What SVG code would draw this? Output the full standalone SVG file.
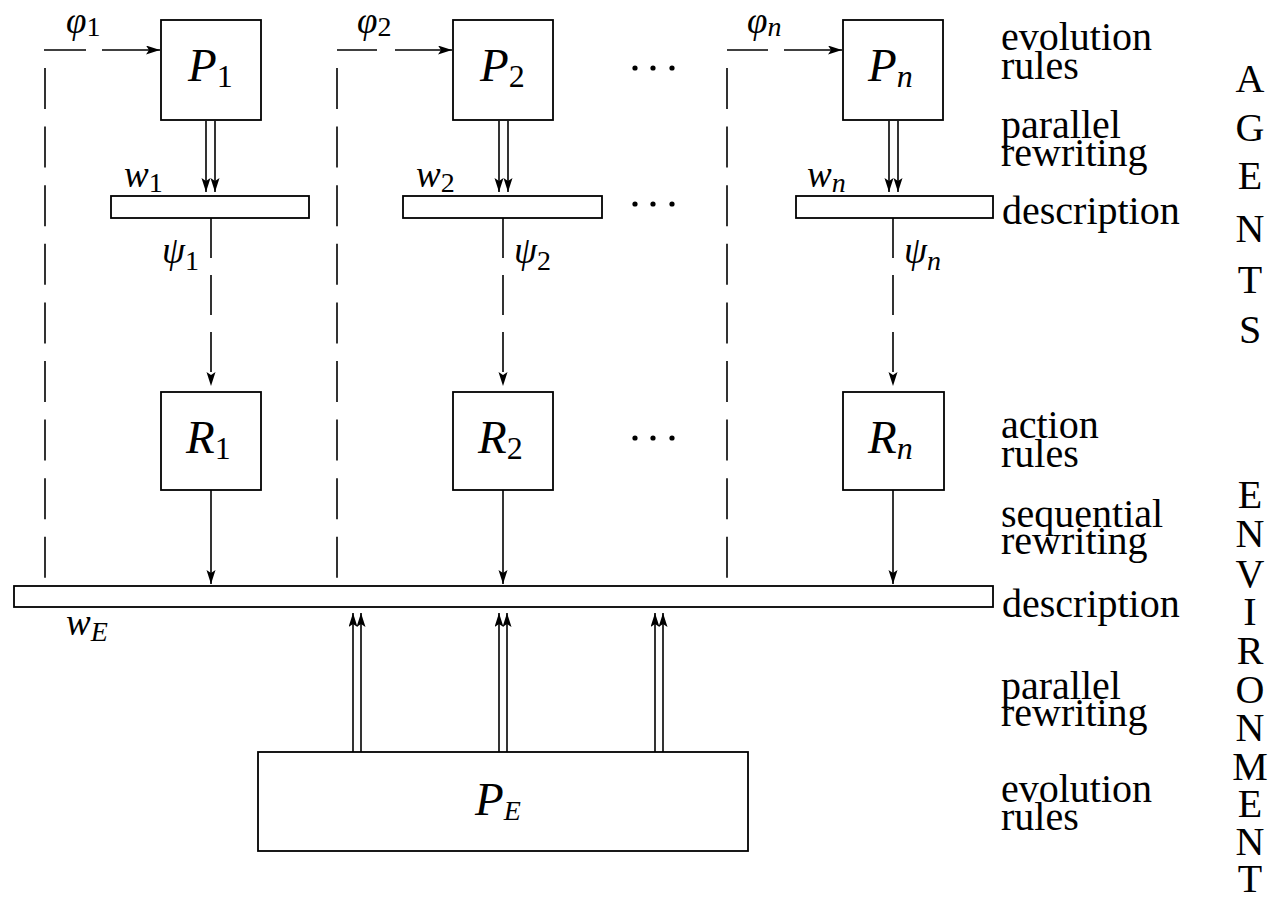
<svg xmlns="http://www.w3.org/2000/svg" width="1275" height="902" viewBox="0 0 1275 902">
<style>
.box{fill:#fff;stroke:#000;stroke-width:1.8}
.ln{stroke:#000;stroke-width:1.6;fill:none}
.dv{stroke-dasharray:41 17.6}
.dp{stroke-dasharray:40 17}
.m{font-family:"Liberation Serif","DejaVu Serif",serif;font-style:italic;fill:#000}
.big{font-size:47px}
.lab{font-size:37px}
.sb{font-size:32px}
.ss{font-size:28px}
.up{font-style:normal}
.t{font-family:"Liberation Serif","Times New Roman",serif;font-size:40px;fill:#000}
.dot{fill:#000}
</style>
<defs>
<marker id="ah" markerUnits="userSpaceOnUse" markerWidth="15" markerHeight="10" refX="14" refY="4.5" orient="auto">
<path d="M0,0 L14,4.5 L0,9 L3,4.5 Z" fill="#000"/>
</marker>
</defs>
<rect width="1275" height="902" fill="#fff"/>

<g id="connectors">
<line class="ln" x1="44" y1="50" x2="86" y2="50"/>
<line class="ln" x1="102" y1="50" x2="160" y2="50" marker-end="url(#ah)"/>
<line class="ln" x1="337" y1="50" x2="377" y2="50"/>
<line class="ln" x1="395" y1="50" x2="452" y2="50" marker-end="url(#ah)"/>
<line class="ln" x1="727" y1="50" x2="768" y2="50"/>
<line class="ln" x1="784" y1="50" x2="842" y2="50" marker-end="url(#ah)"/>
<line class="ln dv" x1="45" y1="68" x2="45" y2="580"/>
<line class="ln dv" x1="337" y1="68" x2="337" y2="580"/>
<line class="ln dv" x1="727" y1="68" x2="727" y2="580"/>
<line class="ln" x1="206" y1="121" x2="206" y2="192" marker-end="url(#ah)"/>
<line class="ln" x1="215" y1="121" x2="215" y2="192" marker-end="url(#ah)"/>
<line class="ln" x1="499" y1="121" x2="499" y2="192" marker-end="url(#ah)"/>
<line class="ln" x1="508" y1="121" x2="508" y2="192" marker-end="url(#ah)"/>
<line class="ln" x1="889" y1="121" x2="889" y2="192" marker-end="url(#ah)"/>
<line class="ln" x1="898" y1="121" x2="898" y2="192" marker-end="url(#ah)"/>
<line class="ln dp" x1="211" y1="218" x2="211" y2="386" marker-end="url(#ah)"/>
<line class="ln dp" x1="503" y1="218" x2="503" y2="386" marker-end="url(#ah)"/>
<line class="ln dp" x1="893" y1="218" x2="893" y2="386" marker-end="url(#ah)"/>
<line class="ln" x1="211" y1="490" x2="211" y2="584" marker-end="url(#ah)"/>
<line class="ln" x1="503" y1="490" x2="503" y2="584" marker-end="url(#ah)"/>
<line class="ln" x1="893" y1="490" x2="893" y2="584" marker-end="url(#ah)"/>
<line class="ln" x1="353" y1="752" x2="353" y2="613" marker-end="url(#ah)"/>
<line class="ln" x1="361" y1="752" x2="361" y2="613" marker-end="url(#ah)"/>
<line class="ln" x1="499" y1="752" x2="499" y2="613" marker-end="url(#ah)"/>
<line class="ln" x1="507" y1="752" x2="507" y2="613" marker-end="url(#ah)"/>
<line class="ln" x1="655" y1="752" x2="655" y2="613" marker-end="url(#ah)"/>
<line class="ln" x1="663" y1="752" x2="663" y2="613" marker-end="url(#ah)"/>
</g>

<g id="labels-edges">
<text class="m lab" x="66" y="33">φ<tspan class="ss up" dy="3">1</tspan></text>
<text class="m lab" x="357" y="33">φ<tspan class="ss up" dy="3">2</tspan></text>
<text class="m lab" x="747" y="33">φ<tspan class="ss" dy="3">n</tspan></text>
<text class="m lab" x="162" y="263">ψ<tspan class="ss up" dy="7">1</tspan></text>
<text class="m lab" x="514" y="263">ψ<tspan class="ss up" dy="7">2</tspan></text>
<text class="m lab" x="904" y="263">ψ<tspan class="ss" dy="7">n</tspan></text>
</g>

<g id="P1"><rect class="box" x="161" y="20" width="100" height="100"/>
<text class="m big" x="188" y="81">P<tspan class="sb up" dy="6">1</tspan></text></g>
<g id="P2"><rect class="box" x="453" y="20" width="100" height="100"/>
<text class="m big" x="480" y="81">P<tspan class="sb up" dy="6">2</tspan></text></g>
<g id="Pn"><rect class="box" x="843" y="20" width="100" height="100"/>
<text class="m big" x="868" y="81">P<tspan class="sb" dy="6">n</tspan></text></g>

<g id="w1"><rect class="box" x="111" y="196" width="198" height="22"/>
<text class="m lab" x="124" y="187">w<tspan class="ss up" dy="5">1</tspan></text></g>
<g id="w2"><rect class="box" x="403" y="196" width="199" height="22"/>
<text class="m lab" x="416" y="187">w<tspan class="ss up" dy="5">2</tspan></text></g>
<g id="wn"><rect class="box" x="796" y="196" width="197" height="22"/>
<text class="m lab" x="807" y="187">w<tspan class="ss" dy="5">n</tspan></text></g>

<g id="R1"><rect class="box" x="161" y="392" width="100" height="98"/>
<text class="m big" x="186" y="453">R<tspan class="sb up" dy="6">1</tspan></text></g>
<g id="R2"><rect class="box" x="453" y="392" width="100" height="98"/>
<text class="m big" x="478" y="453">R<tspan class="sb up" dy="6">2</tspan></text></g>
<g id="Rn"><rect class="box" x="843" y="392" width="101" height="98"/>
<text class="m big" x="868" y="453">R<tspan class="sb" dy="6">n</tspan></text></g>

<g id="wE"><rect class="box" x="14" y="586" width="979" height="21"/>
<text class="m lab" x="66" y="635">w<tspan class="ss" dy="6">E</tspan></text></g>

<g id="PE"><rect class="box" x="258" y="752" width="490" height="99"/>
<text class="m big" x="475" y="815">P<tspan class="ss" dy="5">E</tspan></text></g>

<g id="dots">
<circle class="dot" cx="635" cy="68" r="2.6"/><circle class="dot" cx="653" cy="68" r="2.6"/><circle class="dot" cx="672" cy="68" r="2.6"/>
<circle class="dot" cx="635" cy="204" r="2.6"/><circle class="dot" cx="653" cy="204" r="2.6"/><circle class="dot" cx="672" cy="204" r="2.6"/>
<circle class="dot" cx="635" cy="438" r="2.6"/><circle class="dot" cx="653" cy="438" r="2.6"/><circle class="dot" cx="672" cy="438" r="2.6"/>
</g>

<g id="side-labels">
<text class="t" x="1001" y="50">evolution</text>
<text class="t" x="1001" y="79">rules</text>
<text class="t" x="1001" y="138">parallel</text>
<text class="t" x="1001" y="166">rewriting</text>
<text class="t" x="1002" y="224">description</text>
<text class="t" x="1001" y="438">action</text>
<text class="t" x="1001" y="467">rules</text>
<text class="t" x="1001" y="527">sequential</text>
<text class="t" x="1001" y="554">rewriting</text>
<text class="t" x="1002" y="617">description</text>
<text class="t" x="1001" y="699">parallel</text>
<text class="t" x="1001" y="726">rewriting</text>
<text class="t" x="1001" y="802">evolution</text>
<text class="t" x="1001" y="830">rules</text>
</g>

<g id="vertical-titles" text-anchor="middle">
<text class="t" x="1250" y="92">A</text>
<text class="t" x="1250" y="141">G</text>
<text class="t" x="1250" y="189">E</text>
<text class="t" x="1250" y="242">N</text>
<text class="t" x="1250" y="293">T</text>
<text class="t" x="1250" y="343">S</text>
<text class="t" x="1250" y="508">E</text>
<text class="t" x="1250" y="547">N</text>
<text class="t" x="1250" y="587">V</text>
<text class="t" x="1250" y="625">I</text>
<text class="t" x="1250" y="664">R</text>
<text class="t" x="1250" y="703">O</text>
<text class="t" x="1250" y="741">N</text>
<text class="t" x="1250" y="780">M</text>
<text class="t" x="1250" y="817">E</text>
<text class="t" x="1250" y="855">N</text>
<text class="t" x="1250" y="892">T</text>
</g>
</svg>
